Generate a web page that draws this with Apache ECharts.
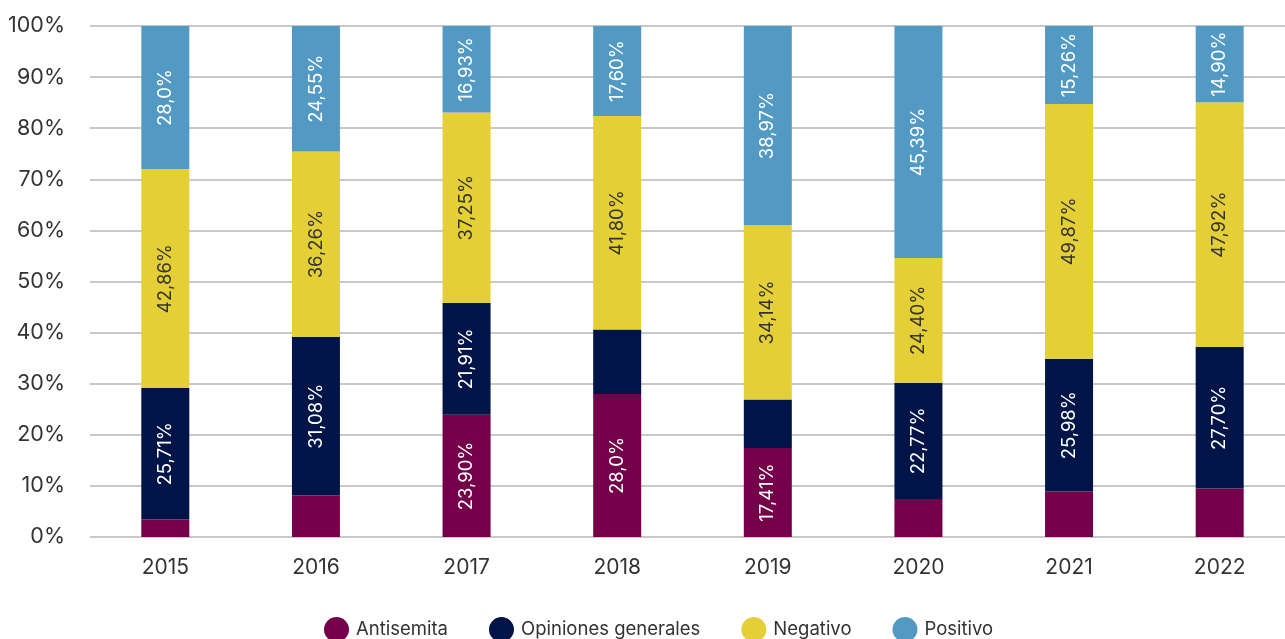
<!DOCTYPE html>
<html>
<head>
<meta charset="utf-8">
<script src="https://cdn.jsdelivr.net/npm/echarts@6/dist/echarts.min.js"></script>
<style>
  html, body { margin: 0; padding: 0; background: #fff; }
  #chart { width: 1285px; height: 639px; }
</style>
</head>
<body>
<div id="chart"></div>
<script>
// datos por año
var years = ['2015', '2016', '2017', '2018', '2019', '2020', '2021', '2022'];

var antisemita = [3.43, 8.11, 23.90, 28.0, 17.41, 7.44, 8.89, 9.48];
var opiniones = [25.71, 31.08, 21.91, 12.6, 9.48, 22.77, 25.98, 27.70];
var negativo = [42.86, 36.26, 37.25, 41.80, 34.14, 24.40, 49.87, 47.92];
var positivo = [28.0, 24.55, 16.93, 17.60, 38.97, 45.39, 15.26, 14.90];

// etiquetas visibles (null = sin etiqueta)
var antisemitaLabels = [null, null, '23,90%', '28,0%', '17,41%', null, null, null];
var opinionesLabels = ['25,71%', '31,08%', '21,91%', null, null, '22,77%', '25,98%', '27,70%'];
var negativoLabels = ['42,86%', '36,26%', '37,25%', '41,80%', '34,14%', '24,40%', '49,87%', '47,92%'];
var positivoLabels = ['28,0%', '24,55%', '16,93%', '17,60%', '38,97%', '45,39%', '15,26%', '14,90%'];

var fontFam = 'Inter, "Noto Sans", sans-serif';

function makeSeries(name, values, labels, color, textColor) {
  return {
    name: name,
    type: 'bar',
    stack: 'total',
    barWidth: 48,
    itemStyle: { color: color },
    label: {
      show: true,
      position: 'inside',
      rotate: 90,
      color: textColor,
      fontSize: 18.5,
      fontFamily: fontFam,
      formatter: function (p) { return labels[p.dataIndex] || ''; }
    },
    emphasis: { disabled: true },
    data: values
  };
}

var chart = echarts.init(document.getElementById('chart'));
chart.setOption({
  animation: false,
  grid: { left: 90, width: 1205, top: 26, bottom: 102, outerBoundsMode: 'none', containLabel: false },
  legend: {
    left: 319,
    top: 612,
    icon: 'circle',
    itemWidth: 29,
    itemHeight: 25,
    itemGap: 41,
    textStyle: { fontSize: 18.5, color: '#333', fontFamily: fontFam },
    data: ['Antisemita', 'Opiniones generales', 'Negativo', 'Positivo']
  },
  xAxis: {
    type: 'category',
    data: years,
    axisLine: { show: false },
    axisTick: { show: false },
    axisLabel: { fontSize: 21, color: '#333', margin: 20, fontFamily: fontFam }
  },
  yAxis: {
    type: 'value',
    min: 0,
    max: 100,
    interval: 10,
    axisLabel: { formatter: '{value}%', fontSize: 21.5, color: '#333', margin: 25, fontFamily: fontFam },
    splitLine: { lineStyle: { color: '#c8c8c8', width: 2 } }
  },
  series: [
    makeSeries('Antisemita', antisemita, antisemitaLabels, '#75004A', '#fff'),
    makeSeries('Opiniones generales', opiniones, opinionesLabels, '#001447', '#fff'),
    makeSeries('Negativo', negativo, negativoLabels, '#E4CF36', '#333'),
    makeSeries('Positivo', positivo, positivoLabels, '#529AC4', '#fff')
  ]
});
</script>
</body>
</html>
